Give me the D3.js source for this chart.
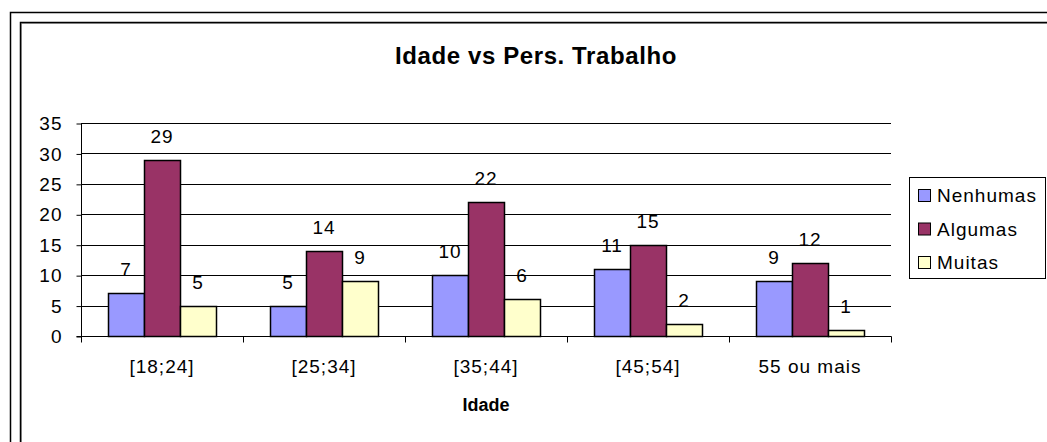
<!DOCTYPE html>
<html>
<head>
<meta charset="utf-8">
<script src="https://cdn.jsdelivr.net/npm/d3@7"></script>
<style>
  body { margin: 0; background: #fff; }
  text { font-family: "Liberation Sans", Arial, sans-serif; fill: #000; }
</style>
</head>
<body>
<div id="chart"></div>
<script>
const categories = ["[18;24]", "[25;34]", "[35;44]", "[45;54]", "55 ou mais"];
const seriesNames = ["Nenhumas", "Algumas", "Muitas"];
const nenhumas = [7, 5, 10, 11, 9];
const algumas = [29, 14, 22, 15, 12];
const muitas = [5, 9, 6, 2, 1];
const yTicks = [0, 5, 10, 15, 20, 25, 30, 35];
const colors = ["#9999ff", "#993366", "#ffffcc"];

const width = 1047,
  height = 442;
const plot = { left: 81, right: 891, top: 123, bottom: 336 };

const svg = d3.select("#chart").append("svg").attr("width", width).attr("height", height);

// frame borders (run off right and bottom edge)
svg.append("rect").attr("x", 10.5).attr("y", 12.5).attr("width", 1100).attr("height", 500)
  .attr("fill", "none").attr("stroke", "#000").attr("stroke-width", 1.5);
svg.append("rect").attr("x", 21.5).attr("y", 23.5).attr("width", 1100).attr("height", 500)
  .attr("fill", "none").attr("stroke", "#aaa").attr("stroke-width", 1);
svg.append("rect").attr("x", 20.5).attr("y", 22.5).attr("width", 1100).attr("height", 500)
  .attr("fill", "none").attr("stroke", "#000").attr("stroke-width", 1.5);

// title
svg.append("text").attr("x", 536).attr("y", 64).attr("text-anchor", "middle")
  .attr("font-size", 24).attr("font-weight", "bold").attr("letter-spacing", "0.6px")
  .text("Idade vs Pers. Trabalho");

const x0 = d3.scaleBand().domain(categories).range([plot.left, plot.right]).paddingInner(0).paddingOuter(0);
const y = d3.scaleLinear().domain([0, 35]).range([plot.bottom, plot.top]);
const barW = 36;
const x1 = d3.scaleBand().domain(seriesNames).range([0, barW * 3]);

// gridlines
svg.append("g").selectAll("line").data(yTicks.filter((d) => d > 0)).join("line")
  .attr("x1", plot.left).attr("x2", plot.right)
  .attr("y1", (d) => Math.round(y(d)) + 0.5).attr("y2", (d) => Math.round(y(d)) + 0.5)
  .attr("stroke", "#000");

// y axis
const yAxis = svg.append("g").attr("transform", `translate(${plot.left + 0.5},0.5)`)
  .call(d3.axisLeft(y).tickValues(yTicks).tickSize(5).tickPadding(14));
yAxis.select(".domain").attr("stroke", "#000").attr("d", `M0,${y(35)}V${y(0)}`);
yAxis.selectAll("text").attr("font-size", 19).attr("font-family", "Liberation Sans, Arial, sans-serif")
  .attr("letter-spacing", "1px");

// x axis
const xAxis = svg.append("g").attr("transform", `translate(0.5,${plot.bottom + 0.5})`);
xAxis.append("line").attr("x1", plot.left - 5).attr("x2", plot.right).attr("stroke", "#000");
xAxis.selectAll(".tk").data(d3.range(categories.length + 1)).join("line")
  .attr("x1", (i) => Math.round(plot.left + i * x0.bandwidth()))
  .attr("x2", (i) => Math.round(plot.left + i * x0.bandwidth()))
  .attr("y1", 0).attr("y2", 6).attr("stroke", "#000");
svg.append("g").selectAll("text").data(categories).join("text")
  .attr("x", (d) => x0(d) + x0.bandwidth() / 2).attr("y", 373)
  .attr("text-anchor", "middle").attr("font-size", 19).attr("letter-spacing", "1px").text((d) => d);

svg.append("text").attr("x", 486).attr("y", 411).attr("text-anchor", "middle")
  .attr("font-size", 18).attr("font-weight", "bold").text("Idade");

// bars
const rows = categories.map((c, i) => ({
  cat: c,
  vals: [nenhumas[i], algumas[i], muitas[i]].map((v, j) => ({ name: seriesNames[j], v: v, j: j })),
}));

const groups = svg.append("g").selectAll("g").data(rows).join("g")
  .attr("transform", (d) => `translate(${x0(d.cat) + (x0.bandwidth() - barW * 3) / 2},0)`);

groups.selectAll("rect").data((d) => d.vals).join("rect")
  .attr("x", (d) => Math.round(x1(d.name)) + 0.5)
  .attr("y", (d) => Math.round(y(d.v)) + 0.5)
  .attr("width", barW)
  .attr("height", (d) => Math.round(y(0)) - Math.round(y(d.v)))
  .attr("fill", (d) => colors[d.j])
  .attr("stroke", "#000").attr("stroke-width", 1.5);

groups.selectAll("text").data((d) => d.vals).join("text")
  .attr("x", (d) => x1(d.name) + barW / 2)
  .attr("y", (d) => y(d.v) - 17)
  .attr("text-anchor", "middle").attr("font-size", 19).attr("letter-spacing", "1px")
  .text((d) => d.v);

// legend
const legend = svg.append("g");
legend.append("rect").attr("x", 909.5).attr("y", 177.5).attr("width", 136).attr("height", 101)
  .attr("fill", "#fff").attr("stroke", "#000");
const li = legend.selectAll("g").data(seriesNames).join("g")
  .attr("transform", (d, i) => `translate(918,${195 + i * 33.5})`);
li.append("rect").attr("x", 0.5).attr("y", -5.5).attr("width", 12).attr("height", 12)
  .attr("fill", (d, i) => colors[i]).attr("stroke", "#000");
li.append("text").attr("x", 19).attr("y", 7).attr("font-size", 19).attr("letter-spacing", "1px")
  .text((d) => d);
</script>
</body>
</html>
